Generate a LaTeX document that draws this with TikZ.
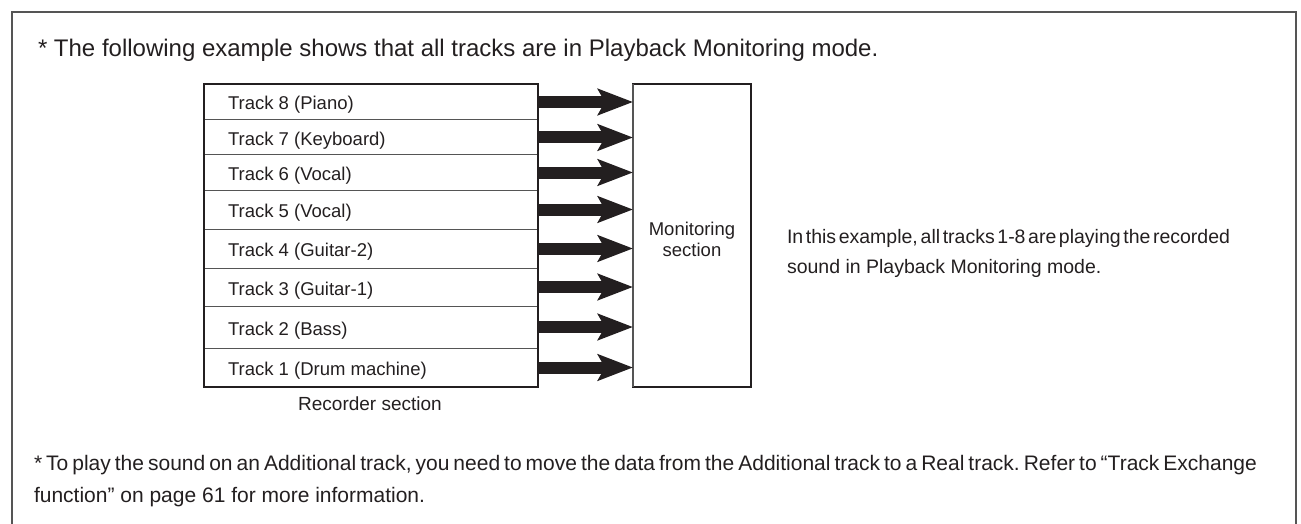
\documentclass[tikz,border=0pt]{standalone}
\usepackage{fontspec}
\setmainfont{Liberation Sans}
\usetikzlibrary{arrows.meta}
\definecolor{ink}{HTML}{231F20}
\definecolor{rule}{HTML}{555555}
\begin{document}
\begin{tikzpicture}[x=1pt,y=-1pt,
  every node/.style={inner sep=0pt, outer sep=0pt, text=ink},
  body/.style={font=\fontsize{18.5}{22}\selectfont},
  side/.style={font=\fontsize{19.5}{24}\selectfont},
  note/.style={font=\fontsize{21}{25}\selectfont},
  head/.style={font=\fontsize{24}{28}\selectfont},
  rowbox/.style={draw=rule, line width=1pt, minimum width=334pt, anchor=north west},
  flow/.style={draw=ink, line width=12pt, -{Stealth[length=35pt, width=26pt, inset=7pt]}},
]
\useasboundingbox (0,0) rectangle (1301,524);
\draw[line width=1.5pt, draw=rule] (12,524) -- (12,12) -- (1296,12) -- (1296,524);

\node[head, anchor=base west] (hd) at (38,57) {* The following example shows that all tracks are in Playback Monitoring mode.};

\foreach \i/\t/\b/\lab in {8/84/120/Track 8 (Piano), 7/120/155/Track 7 (Keyboard), 6/155/190/Track 6 (Vocal), 5/190/229/Track 5 (Vocal), 4/229/268/Track 4 (Guitar-2), 3/268/306/Track 3 (Guitar-1), 2/306/348/Track 2 (Bass), 1/348/387/Track 1 (Drum machine)} {
  \pgfmathsetmacro\h{\b-\t}
  \node[rowbox, minimum height=\h pt] (r\i) at (204,\t) {};
  \node[body, anchor=base west] (t\i) at (228,{(\t+\b)/2+8}) {\lab};
}
\draw[ink, line width=1.2pt] (r8.north west) rectangle (r1.south east);
\node[body, font=\fontsize{19}{22}\selectfont, anchor=base] (rec) at (370,410) {Recorder section};

\node[draw=ink, line width=1.2pt, minimum width=118pt, minimum height=303pt, anchor=north west] (mon) at (633,84) {};
\draw[rule, line width=2pt] (mon.north west) -- (mon.south west);
\node[body, anchor=base] (mt1) at (692,235) {Monitoring};
\node[body, anchor=base] (mt2) at (692,256.5) {section};

\foreach \i in {1,...,8} \draw[flow] (r\i.east) -- (mon.west |- r\i.east);

\node[side, anchor=base west] (n1) at (787,243) {\hbox to 439pt{\spaceskip=3.6pt plus 4pt minus 1pt In this example, all tracks 1-8 are playing the recorded}};
\node[side, anchor=base west] (n2) at (787,273.5) {sound in Playback Monitoring mode.};

\node[note, anchor=base west] (b1) at (34,470) {\hbox to 1223pt{\spaceskip=4pt plus 6pt minus 2pt\xspaceskip=\spaceskip * To play the sound on an Additional track, you need to move the data from the Additional track to a Real track. Refer to “Track Exchange}};
\node[note, anchor=base west] (b2) at (34,502) {function” on page 61 for more information.};
\end{tikzpicture}
\end{document}
